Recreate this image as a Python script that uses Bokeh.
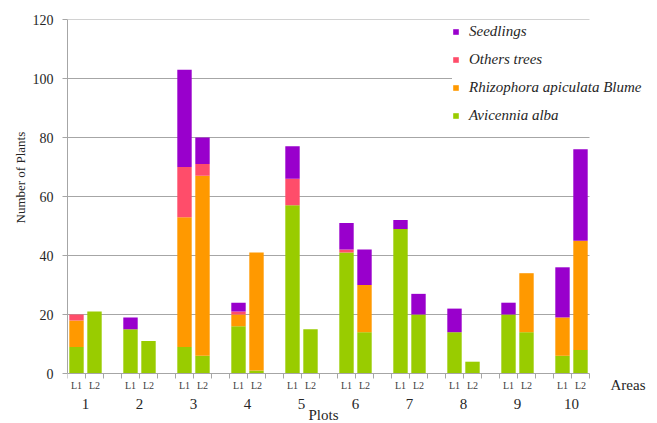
import math
from bokeh.plotting import figure
from bokeh.models import (Range1d, FixedTicker, Legend, LegendItem, Label, Title,
                          ColumnDataSource)
from bokeh.core.properties import value
from bokeh.embed import file_html
from bokeh.resources import INLINE

# ---------------- data ----------------
plots = ["1", "2", "3", "4", "5", "6", "7", "8", "9", "10"]
areas = ["L1", "L2"]
# values per bar, ordered plot1-L1, plot1-L2, plot2-L1, ...
avicennia  = [9, 21, 15, 11, 9, 6, 16, 1, 57, 15, 41, 14, 49, 20, 14, 4, 20, 14, 6, 8]
rhizophora = [9, 0, 0, 0, 44, 61, 4, 40, 0, 0, 0, 16, 0, 0, 0, 0, 0, 20, 13, 37]
others     = [2, 0, 0, 0, 17, 4, 1, 0, 9, 0, 1, 0, 0, 0, 0, 0, 0, 0, 0, 0]
seedlings  = [0, 0, 4, 0, 33, 9, 3, 0, 11, 0, 9, 12, 3, 7, 8, 0, 4, 0, 17, 31]
series_names = ["Avicennia alba", "Rhizophora apiculata Blume", "Others trees", "Seedlings"]
colors = ["#99CC00", "#FF9900", "#FF4D6A", "#9900CC"]
y_ticks = [0, 20, 40, 60, 80, 100, 120]
y_max = 120

# ---------------- layout (pixels) ----------------
W, H = 657, 423
LEFT, TOP = 67, 19           # frame origin
PLOT_W, PLOT_H = 522, 354    # area of the actual axes (0..29 x 0..120)

slots_per_group = 3  # L1, L2, gap
xs, labels_sub = [], []
for gi, g in enumerate(plots):
    for ai, a in enumerate(areas):
        xs.append(gi * slots_per_group + ai + 0.5)
        labels_sub.append(a)
x_end = (len(plots) - 1) * slots_per_group + len(areas)
group_centers = [gi * slots_per_group + len(areas) / 2 for gi in range(len(plots))]

px_x = PLOT_W / x_end          # px per x unit
px_y = PLOT_H / y_max          # px per y unit
x_range_end = (W - LEFT) / px_x
y_range_start = -(H - TOP - PLOT_H) / px_y

def dy(px):  # pixel distance below the baseline, in data units
    return -px / px_y

src = ColumnDataSource(dict(x=xs, avicennia=avicennia, rhizophora=rhizophora,
                            others=others, seedlings=seedlings))

SERIF = "Liberation Serif"
GRAY = "#A6A6A6"
TXT = "#262626"

p = figure(width=W, height=H, output_backend="svg", toolbar_location=None,
           x_range=Range1d(0, x_range_end), y_range=Range1d(y_range_start, y_max),
           x_axis_type=None, min_border_left=LEFT, min_border_right=0,
           min_border_top=TOP, min_border_bottom=0)
p.outline_line_color = None
p.background_fill_color = "white"
p.xgrid.visible = False
p.ygrid.visible = False

# horizontal grid lines (stop at the end of the category axis)
p.segment(x0=[0] * (len(y_ticks) - 1), x1=[x_end] * (len(y_ticks) - 1),
          y0=y_ticks[1:], y1=y_ticks[1:], line_color=GRAY, line_width=1, level="underlay")

# bars
rs = p.vbar_stack(["avicennia", "rhizophora", "others", "seedlings"], x="x", width=0.8,
                  color=colors, line_color=None, source=src)

# category axis: baseline, boundary ticks, labels
p.segment(x0=[0], x1=[x_end], y0=[0], y1=[0], line_color=GRAY, line_width=1)
bounds = list(range(0, x_end + 1))
p.segment(x0=bounds, x1=bounds, y0=[0] * len(bounds), y1=[dy(5)] * len(bounds),
          line_color=GRAY, line_width=1)
p.text(x=xs, y=[dy(12)] * len(xs), text=labels_sub, text_font=value(SERIF),
       text_font_size="10px", text_color="#404040", text_align="center",
       text_baseline="middle")
p.text(x=group_centers, y=[dy(30)] * len(group_centers), text=plots,
       text_font=value(SERIF), text_font_size="15px", text_color=TXT,
       text_align="center", text_baseline="middle")
p.add_layout(Label(x=x_end, y=0, x_offset=21, y_offset=-11, text="Areas",
                   text_align="left", text_baseline="middle", text_font=SERIF,
                   text_font_size="15px", text_color=TXT))
p.add_layout(Label(x=x_end / 2, y=0, x_offset=-5, y_offset=-33, text="Plots",
                   text_align="center", text_baseline="top", text_font=SERIF,
                   text_font_size="15px", text_color=TXT))

# y axis
ya = p.yaxis[0]
ya.ticker = FixedTicker(ticks=y_ticks, minor_ticks=[])
ya.bounds = (0, y_max)
ya.axis_line_color = GRAY
ya.major_tick_line_color = GRAY
ya.major_tick_out = 5
ya.major_tick_in = 0
ya.minor_tick_line_color = None
ya.major_label_standoff = 9
ya.major_label_text_font = SERIF
ya.major_label_text_font_size = "14px"
ya.major_label_text_color = TXT

p.add_layout(Title(text="Number of  Plants", align="left", offset=200, standoff=4,
                   text_font=SERIF, text_font_size="13px", text_font_style="normal",
                   text_color=TXT), "left")

# legend
items = [LegendItem(label=n, renderers=[r]) for n, r in zip(series_names, rs)][::-1]
legend = Legend(items=items, location=(385, 298), orientation="vertical",
                glyph_width=7, glyph_height=7, label_standoff=10, spacing=8,
                label_height=20, padding=4, margin=0, border_line_color=None,
                background_fill_color="white", background_fill_alpha=1.0,
                label_text_font=SERIF, label_text_font_style="italic",
                label_text_font_size="15px", label_text_color=TXT)
p.add_layout(legend)

open("out.html", "w").write(file_html(p, INLINE))
